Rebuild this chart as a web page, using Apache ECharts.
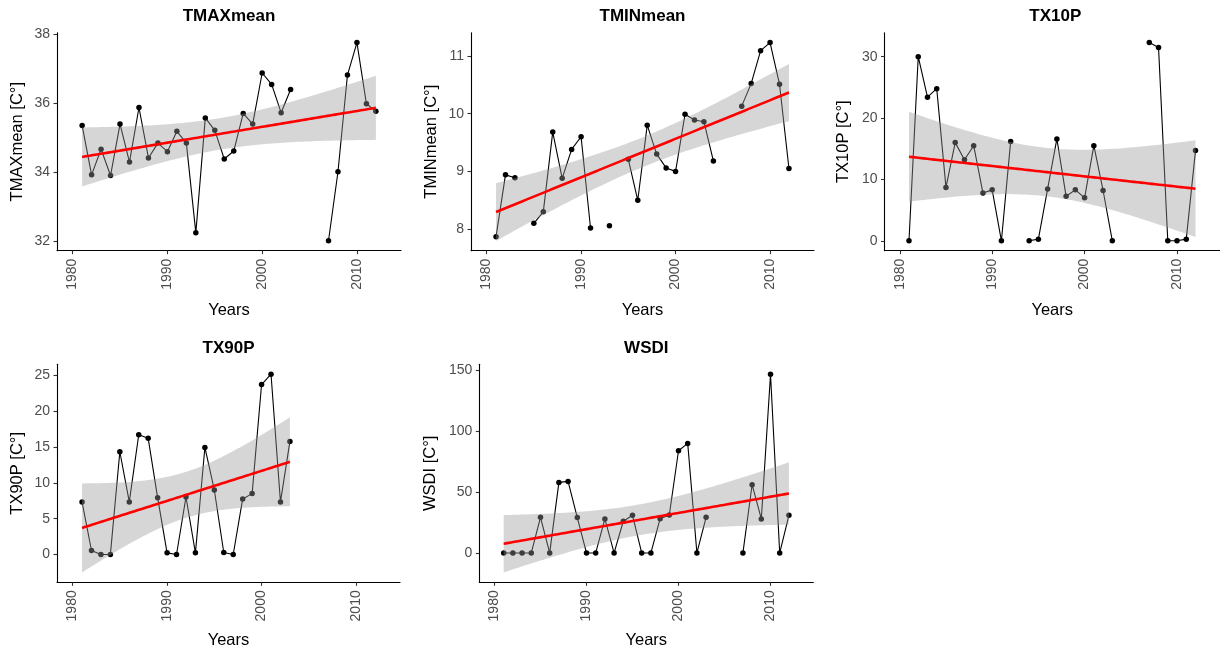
<!DOCTYPE html>
<html>
<head>
<meta charset="utf-8">
<title>Climate indices trends</title>
<script src="https://cdn.jsdelivr.net/npm/echarts@6/dist/echarts.min.js"></script>
<style>
  html, body { margin: 0; padding: 0; background: #fff; }
  #main { width: 1220px; height: 653px; }
</style>
</head>
<body>
<div id="main"></div>
<script>
// 年份和各指标数据（null = 缺测）
var years = [1981, 1982, 1983, 1984, 1985, 1986, 1987, 1988, 1989, 1990,
             1991, 1992, 1993, 1994, 1995, 1996, 1997, 1998, 1999, 2000,
             2001, 2002, 2003, 2004, 2005, 2006, 2007, 2008, 2009, 2010,
             2011, 2012];

var tmaxMean = [35.35, 33.92, 34.66, 33.90, 35.39, 34.29, 35.87, 34.41, 34.84, 34.59,
                35.18, 34.84, 32.24, 35.57, 35.21, 34.38, 34.61, 35.70, 35.39, 36.87,
                36.54, 35.72, 36.39, null, null, null, 32.01, 34.01, 36.81, 37.75,
                35.98, 35.76];

var tminMean = [7.87, 8.94, 8.89, null, 8.10, 8.30, 9.68, 8.88, 9.38, 9.60,
                8.02, null, 8.06, null, 9.21, 8.50, 9.80, 9.30, 9.06, 9.00,
                9.99, 9.89, 9.86, 9.18, null, null, 10.13, 10.52, 11.09, 11.23,
                10.51, 9.05];

var tx10p = [0, 30.0, 23.4, 24.8, 8.7, 16.0, 13.2, 15.5, 7.8, 8.3,
             0, 16.2, null, 0, 0.27, 8.45, 16.6, 7.25, 8.3, 7.0,
             15.5, 8.2, 0, null, null, null, 32.3, 31.5, 0, 0,
             0.27, 14.7];

var tx90p = [7.33, 0.56, 0, 0, 14.33, 7.33, 16.7, 16.2, 7.93, 0.23,
             0, 8.02, 0.23, 14.93, 9.0, 0.28, 0, 7.75, 8.49, 23.7,
             25.14, 7.33, 15.77, null, null, null, null, null, null, null,
             null, null];

var wsdi = [0, 0, 0, 0, 29.2, 0, 57.9, 58.7, 29.0, 0,
            0, 27.9, 0, 26.0, 30.9, 0, 0, 28.1, 31.1, 83.9,
            89.9, 0, 29.2, null, null, null, 0, 56.0, 27.9, 146.7,
            0, 30.9];

// 刻度
var xTicks = [1980, 1990, 2000, 2010];
var tmaxTicks = [32, 34, 36, 38];
var tminTicks = [8, 9, 10, 11];
var tx10Ticks = [0, 10, 20, 30];
var tx90Ticks = [0, 5, 10, 15, 20, 25];
var wsdiTicks = [0, 50, 100, 150];

var FONT = '"Liberation Sans", Arial, sans-serif';

// 每个面板的位置
var panels = [
    { title: 'TMAXmean', yName: 'TMAXmean [C°]', values: tmaxMean, ticks: tmaxTicks, left: 57, top: 32.7, width: 344, nameGap: 31.5 },
    { title: 'TMINmean', yName: 'TMINmean [C°]', values: tminMean, ticks: tminTicks, left: 471, top: 32.7, width: 343, nameGap: 31.5 },
    { title: 'TX10P', yName: 'TX10P [C°]', values: tx10p, ticks: tx10Ticks, left: 884.5, top: 32.7, width: 341.5, nameGap: 32.5 },
    { title: 'TX90P', yName: 'TX90P [C°]', values: tx90p, ticks: tx90Ticks, left: 57, top: 364.3, width: 343, nameGap: 31.5 },
    { title: 'WSDI', yName: 'WSDI [C°]', values: wsdi, ticks: wsdiTicks, left: 479.3, top: 364.3, width: 334, nameGap: 40 }
];
var PANEL_H = 218;
var X_MIN = 1978.35, X_MAX = 2014.65;

// t 分位数近似 (0.975)
function tQuant(df) {
    var z = 1.959964, z3 = z * z * z, z5 = z3 * z * z, z7 = z5 * z * z;
    return z + (z3 + z) / (4 * df) + (5 * z5 + 16 * z3 + 3 * z) / (96 * df * df)
        + (3 * z7 + 19 * z5 + 17 * z3 - 15 * z) / (384 * df * df * df);
}

// 线性回归 + 95% 置信带 (类似 geom_smooth(method = "lm"))
function lmFit(xs, ys) {
    var px = [], py = [];
    for (var i = 0; i < xs.length; i++) {
        if (ys[i] != null) { px.push(xs[i]); py.push(ys[i]); }
    }
    var n = px.length, mx = 0, my = 0;
    for (i = 0; i < n; i++) { mx += px[i]; my += py[i]; }
    mx /= n; my /= n;
    var sxx = 0, sxy = 0;
    for (i = 0; i < n; i++) { sxx += (px[i] - mx) * (px[i] - mx); sxy += (px[i] - mx) * (py[i] - my); }
    var b = sxy / sxx, a = my - b * mx, sse = 0;
    for (i = 0; i < n; i++) { var r = py[i] - (a + b * px[i]); sse += r * r; }
    var s = Math.sqrt(sse / (n - 2)), t = tQuant(n - 2);
    var x0 = Math.min.apply(null, px), x1 = Math.max.apply(null, px);
    var fit = [], lower = [], upper = [];
    for (i = 0; i < 80; i++) {
        var x = x0 + (x1 - x0) * i / 79;
        var yhat = a + b * x;
        var se = s * Math.sqrt(1 / n + (x - mx) * (x - mx) / sxx);
        fit.push([x, yhat]);
        lower.push([x, yhat - t * se]);
        upper.push([x, yhat + t * se]);
    }
    return { fit: fit, lower: lower, upper: upper };
}

var myChart = echarts.init(document.getElementById('main'));

var grids = [], xAxes = [], yAxes = [], series = [], graphics = [];

panels.forEach(function (p, k) {
    var m = lmFit(years, p.values);
    // y 轴范围：数据 + 置信带，两端各扩 5%
    var lo = Infinity, hi = -Infinity;
    p.values.forEach(function (v) { if (v != null) { lo = Math.min(lo, v); hi = Math.max(hi, v); } });
    m.lower.forEach(function (d) { lo = Math.min(lo, d[1]); });
    m.upper.forEach(function (d) { hi = Math.max(hi, d[1]); });
    var span = hi - lo;

    grids.push({ left: p.left, top: p.top, width: p.width, height: PANEL_H, containLabel: false });

    xAxes.push({
        type: 'value', gridIndex: k, min: X_MIN, max: X_MAX,
        name: 'Years', nameLocation: 'middle', nameGap: k < 3 ? 51 : 49.5,
        nameTextStyle: { color: '#000', fontSize: 16.5, fontFamily: FONT },
        axisLine: { onZero: false, lineStyle: { color: '#000', width: 1.1 } },
        axisTick: { customValues: xTicks, length: 3.5, lineStyle: { color: '#333', width: 1.1 } },
        axisLabel: {
            customValues: xTicks, rotate: 90, margin: 8, color: '#4d4d4d', fontSize: 14, fontFamily: FONT,
            formatter: function (v) { return String(v); }
        },
        splitLine: { show: false }
    });

    yAxes.push({
        type: 'value', gridIndex: k, min: lo - 0.05 * span, max: hi + 0.05 * span,
        name: p.yName, nameLocation: 'middle', nameGap: p.nameGap,
        nameTextStyle: { color: '#000', fontSize: 16.5, fontFamily: FONT },
        axisLine: { show: true, onZero: false, lineStyle: { color: '#000', width: 1.1 } },
        axisTick: { show: true, customValues: p.ticks, length: 3.5, lineStyle: { color: '#333', width: 1.1 } },
        axisLabel: {
            customValues: p.ticks, margin: 7, color: '#4d4d4d', fontSize: 14, fontFamily: FONT,
            formatter: function (v) { return String(v); }
        },
        splitLine: { show: false }
    });

    // 折线 + 点
    series.push({
        type: 'line', xAxisIndex: k, yAxisIndex: k, z: 2,
        data: years.map(function (y, i) { return [y, p.values[i]]; }),
        connectNulls: false, symbol: 'circle', symbolSize: 5.5, showSymbol: true,
        itemStyle: { color: '#000' },
        lineStyle: { color: '#000', width: 1.1 },
        emphasis: { disabled: true }, animation: false
    });

    // 置信带
    series.push({
        type: 'custom', xAxisIndex: k, yAxisIndex: k, z: 3,
        data: [[m.lower[0][0], m.lower[0][1]]],
        renderItem: function (params, api) {
            var pts = [];
            m.lower.forEach(function (d) { pts.push(api.coord(d)); });
            for (var i = m.upper.length - 1; i >= 0; i--) pts.push(api.coord(m.upper[i]));
            return { type: 'polygon', shape: { points: pts }, style: { fill: 'rgba(153,153,153,0.4)' } };
        },
        silent: true, animation: false
    });

    // 回归线
    series.push({
        type: 'line', xAxisIndex: k, yAxisIndex: k, z: 4,
        data: m.fit, showSymbol: false,
        lineStyle: { color: '#ff0000', width: 2.6 },
        emphasis: { disabled: true }, silent: true, animation: false
    });

    // 标题
    graphics.push({
        type: 'text', x: p.left + p.width / 2, y: k < 3 ? 16.7 : 348.3,
        style: { text: p.title, fill: '#000', font: 'bold 17px ' + FONT, align: 'center', verticalAlign: 'middle' }
    });
});

var option = {
    backgroundColor: '#fff',
    animation: false,
    grid: grids,
    xAxis: xAxes,
    yAxis: yAxes,
    series: series,
    graphic: graphics
};
myChart.setOption(option);

window.addEventListener('resize', function () {
    myChart.resize();
});
</script>
</body>
</html>
